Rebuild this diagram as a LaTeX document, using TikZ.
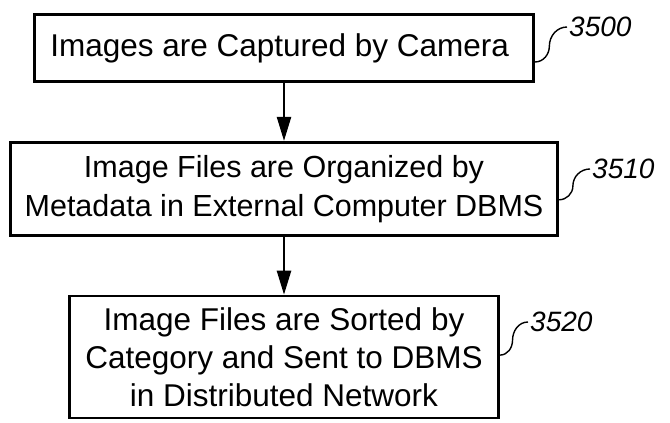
\documentclass[tikz,border=0pt]{standalone}
\usepackage{fontspec}
\setmainfont{Liberation Sans}
\usepackage{tikz}
\usetikzlibrary{positioning, arrows.meta, calc}

\begin{document}
\begin{tikzpicture}[
  x=1pt, y=1pt,
  node distance=58pt,
  every node/.style={font=\fontsize{31.5}{38}\selectfont},
  stepbox/.style={
    draw, line width=2.8pt,
    align=center, inner sep=0pt
  },
  flow/.style={line width=2.4pt, -{Triangle[length=24pt,width=14pt]}},
  leader/.style={line width=1.4pt},
  refnum/.style={font=\fontsize{28}{30}\selectfont\itshape, anchor=west, inner sep=2pt},
]
\useasboundingbox (0,0) rectangle (670,423);

\node[stepbox, minimum width=499pt, minimum height=67pt] (capture) at (284,375) {
  Images are Captured by Camera
};

\node[stepbox, minimum width=547pt, minimum height=93pt, below=of capture,
  font=\fontsize{30.5}{39}\selectfont] (organize) {
  Image Files are Organized by\\
  Metadata in External Computer DBMS
};

\node[stepbox, minimum width=429pt, minimum height=122pt, below=of organize] (sort) {
  Image Files are Sorted by\\
  Category and Sent to DBMS\\
  in Distributed Network
};

\draw[flow] (capture) -- (organize);
\draw[flow] (organize) -- (sort);

% Reference numerals
\node[refnum] (r3500) at (567,396) {3500};
\node[refnum] (r3510) at (590,254) {3510};
\node[refnum] (r3520) at (528,101) {3520};

\coordinate (s3500) at ([yshift=-14pt]capture.east);
\coordinate (s3510) at ([yshift=-11pt]organize.east);
\coordinate (s3520) at ([yshift=2pt]sort.east);

\draw[leader] (s3500) to[out=0,in=-90] ($(s3500)!0.45!(r3500.west)$) to[out=90,in=180] (r3500.west);
\draw[leader] (s3510) to[out=0,in=-90] ($(s3510)!0.45!(r3510.west)$) to[out=90,in=180] (r3510.west);
\draw[leader] (s3520) to[out=0,in=-90] ($(s3520)!0.45!(r3520.west)$) to[out=90,in=180] (r3520.west);

\end{tikzpicture}
\end{document}
